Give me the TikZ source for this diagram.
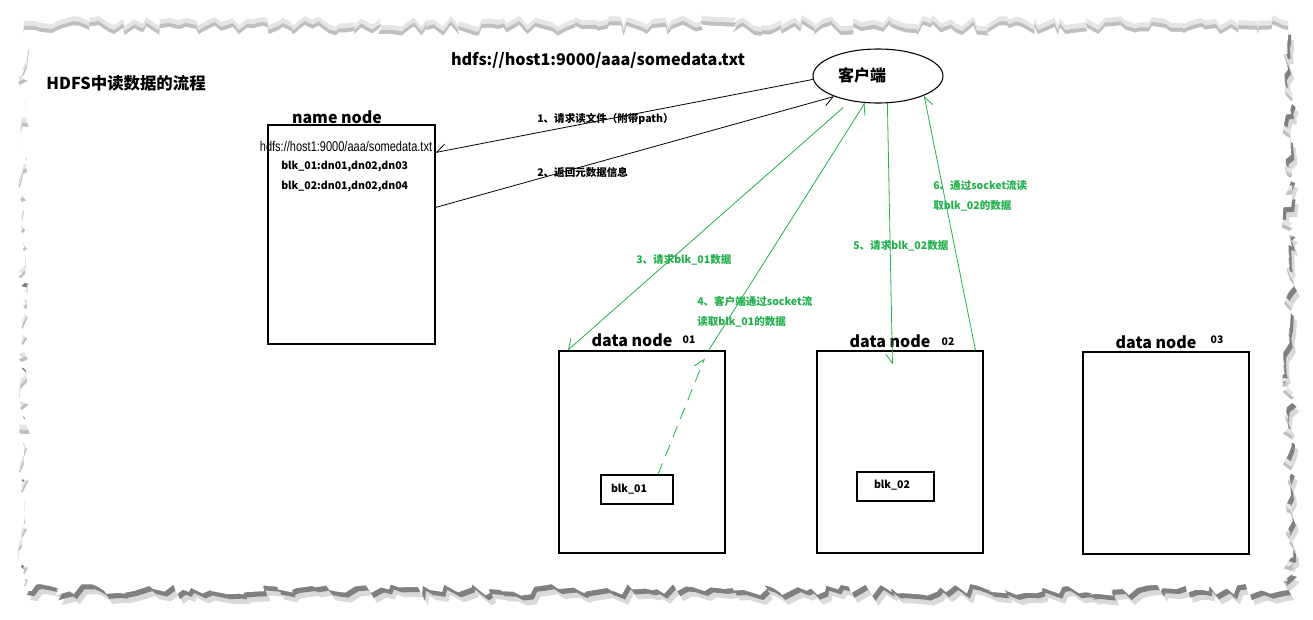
\documentclass[tikz,border=0pt]{standalone}
\usepackage{fontspec}
\setmainfont{Noto Sans CJK SC}
\newfontfamily\arialfont{Liberation Sans}
\usetikzlibrary{arrows.meta,shapes.geometric,decorations.pathmorphing}
\definecolor{pgreen}{RGB}{34,177,76}
\tikzset{
  box/.style={draw, inner sep=0pt, line width=0.8pt},
  barb/.style={-{Straight Barb[harpoon,swap,length=7pt,width=10pt]}},
  conn/.style={line width=0.6pt},
  gconn/.style={conn, draw=pgreen},
  lbl/.style={font=\bfseries\fontsize{7.9}{15}\selectfont, inner sep=0pt, anchor=west, align=left},
  glbl/.style={lbl, text=pgreen},
  ttl/.style={font=\bfseries\fontsize{12}{14}\selectfont, inner sep=0pt},
  num/.style={font=\bfseries\fontsize{7.8}{9}\selectfont, inner sep=0pt},
  paper/.style={decorate, decoration={random steps, segment length=5pt, amplitude=4.5pt}},
}
\begin{document}
\begin{tikzpicture}[x=0.75pt,y=-0.75pt]
\useasboundingbox (0,0) rectangle (1313,619);
\fill[white] (0,0) rectangle (1313,619);
% torn paper with shadow
\begin{scope}[shift={(6,10)}]
  \pgfmathsetseed{11}
  \fill[black!15, paper] (24,30) -- (1288,30) -- (1288,590) -- (24,590) -- cycle;
\end{scope}
\begin{scope}[shift={(3,5)}]
  \pgfmathsetseed{11}
  \fill[black!50, paper] (24,30) -- (1288,30) -- (1288,590) -- (24,590) -- cycle;
\end{scope}
\begin{scope}[shift={(0,-9)}]
  \pgfmathsetseed{11}
  \fill[black!10, paper] (24,30) -- (1288,30) -- (1288,590) -- (24,590) -- cycle;
\end{scope}
\begin{scope}[shift={(0,-4)}]
  \pgfmathsetseed{11}
  \fill[black!25, paper] (24,30) -- (1288,30) -- (1288,590) -- (24,590) -- cycle;
\end{scope}
\pgfmathsetseed{11}
\fill[white, paper] (24,30) -- (1288,30) -- (1288,590) -- (24,590) -- cycle;

% titles
\node[font=\bfseries\fontsize{12.3}{14}\selectfont, inner sep=0pt] (title) at (126,83) {HDFS中读数据的流程};
\node[font=\bfseries\fontsize{12.1}{14}\selectfont, inner sep=0pt] (path) at (598,60) {hdfs://host1:9000/aaa/somedata.txt};

% client
\node[draw, ellipse, line width=0.8pt, minimum width=97.5pt, minimum height=40.5pt, inner sep=0pt] (client) at (878,76) {};
\node[font=\fontsize{12}{14}\selectfont\bfseries, inner sep=0pt] (clienttxt) at (862,75) {客户端};

% name node
\node[box, minimum width=125.25pt, minimum height=164.25pt] (nn) at (351.5,234.5) {};
\node[ttl] (nntitle) at (337,117) {name node};
\node[inner sep=0pt] (nnpath) at (346,146) {\scalebox{0.78}[1]{\arialfont\fontsize{10.6}{12}\selectfont hdfs://host1:9000/aaa/somedata.txt}};
\node[lbl] (nnb1) at (281,166) {blk\_01:dn01,dn02,dn03};
\node[lbl] (nnb2) at (281,186) {blk\_02:dn01,dn02,dn04};

% data nodes
\node[box, minimum width=124.5pt, minimum height=151.5pt] (dn1) at (642,452) {};
\node[ttl] (dn1t) at (632,340) {data node};
\node[num] (dn1n) at (689,340) {01};
\node[box, minimum width=54pt, minimum height=21.75pt] (blk1) at (637,489.5) {};
\node[lbl, anchor=center] (blk1t) at (629,489) {blk\_01};

\node[box, minimum width=124.5pt, minimum height=151.5pt] (dn2) at (900,452) {};
\node[ttl] (dn2t) at (890,341) {data node};
\node[num] (dn2n) at (948,342) {02};
\node[box, minimum width=57.75pt, minimum height=21.75pt] (blk2) at (895.5,486.5) {};
\node[lbl, anchor=center] (blk2t) at (892,485) {blk\_02};

\node[box, minimum width=124.5pt, minimum height=151.5pt] (dn3) at (1166,453) {};
\node[ttl] (dn3t) at (1156,342) {data node};
\node[num] (dn3n) at (1217,340) {03};

% black connectors
\draw[conn, barb] (client.183) -- ([yshift=-21pt]nn.north east);
\node[lbl] (l1) at (537,119) {1、请求读文件（附带path）};
\draw[conn, barb] ([yshift=-62.25pt]nn.north east) -- (client.205);
\node[lbl] (l2) at (537,172) {2、返回元数据信息};

% green connectors
\draw[gconn, barb] ([yshift=-6pt]client.214) -- ([xshift=6.75pt]dn1.north west);
\node[glbl] (l3) at (636,260) {3、请求blk\_01数据};
\draw[gconn, barb] ([xshift=-12.75pt]dn1.north east) -- (client.244);
\node[glbl] (l4) at (697,312) {4、客户端通过socket流\\读取blk\_01的数据};
\draw[gconn, dashed, dash pattern=on 9pt off 6pt, -{Straight Barb[harpoon,length=7pt,width=10pt]}] ([xshift=15.75pt]blk1.north) -- ([xshift=-15.75pt, yshift=-6pt]dn1.north east);
\draw[gconn, barb] (client.289) -- ([xshift=57pt, yshift=-10.5pt]dn2.north west);
\node[glbl] (l5) at (853,246) {5、请求blk\_02数据};
\draw[gconn, barb] ([xshift=-6pt]dn2.north east) -- (client.337);
\node[glbl] (l6) at (933,196) {6、通过socket流读\\取blk\_02的数据};
\end{tikzpicture}
\end{document}
